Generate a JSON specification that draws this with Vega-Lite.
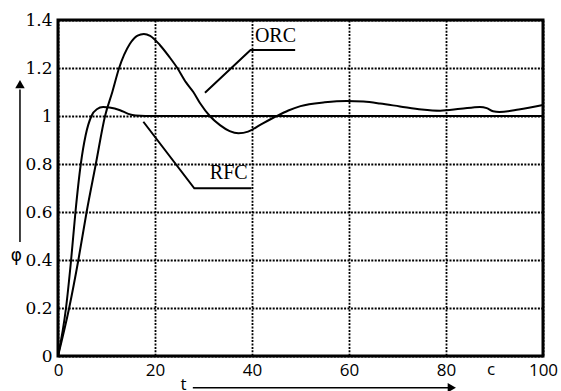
{
  "$schema": "https://vega.github.io/schema/vega-lite/v6.json",
  "width": 485,
  "height": 336,
  "autosize": {"type": "none"},
  "padding": {"left": 58, "top": 20, "right": 18, "bottom": 35},
  "background": "white",
  "config": {
    "view": {"stroke": "black", "strokeWidth": 3},
    "axis": {
      "grid": true,
      "gridColor": "black",
      "gridDash": [2, 1.4],
      "gridWidth": 1.8,
      "gridOpacity": 1,
      "domain": false,
      "ticks": false,
      "labelColor": "black",
      "labelFlush": false,
      "title": null
    }
  },
  "datasets": {
    "curves": [
      {"series": "ORC", "t": 0, "phi": 0},
      {"series": "ORC", "t": 2.3, "phi": 0.2},
      {"series": "ORC", "t": 4.2, "phi": 0.4},
      {"series": "ORC", "t": 5.9, "phi": 0.6},
      {"series": "ORC", "t": 7.8, "phi": 0.8},
      {"series": "ORC", "t": 9.7, "phi": 1.0},
      {"series": "ORC", "t": 11.2, "phi": 1.1},
      {"series": "ORC", "t": 12.6, "phi": 1.2},
      {"series": "ORC", "t": 14.8, "phi": 1.3},
      {"series": "ORC", "t": 16.4, "phi": 1.335},
      {"series": "ORC", "t": 17.7, "phi": 1.342},
      {"series": "ORC", "t": 19, "phi": 1.334},
      {"series": "ORC", "t": 21, "phi": 1.296},
      {"series": "ORC", "t": 23, "phi": 1.245},
      {"series": "ORC", "t": 24.6, "phi": 1.2},
      {"series": "ORC", "t": 26.4, "phi": 1.14},
      {"series": "ORC", "t": 27.9, "phi": 1.1},
      {"series": "ORC", "t": 29.3, "phi": 1.053},
      {"series": "ORC", "t": 31.3, "phi": 1.0},
      {"series": "ORC", "t": 33.4, "phi": 0.962},
      {"series": "ORC", "t": 35.4, "phi": 0.937},
      {"series": "ORC", "t": 37.2, "phi": 0.928},
      {"series": "ORC", "t": 39.2, "phi": 0.935},
      {"series": "ORC", "t": 41.6, "phi": 0.962},
      {"series": "ORC", "t": 45.1, "phi": 1.0},
      {"series": "ORC", "t": 47.5, "phi": 1.023},
      {"series": "ORC", "t": 50, "phi": 1.041},
      {"series": "ORC", "t": 55, "phi": 1.057},
      {"series": "ORC", "t": 59.5, "phi": 1.063},
      {"series": "ORC", "t": 63, "phi": 1.06},
      {"series": "ORC", "t": 66.4, "phi": 1.052},
      {"series": "ORC", "t": 70.5, "phi": 1.04},
      {"series": "ORC", "t": 75, "phi": 1.027},
      {"series": "ORC", "t": 78.8, "phi": 1.022},
      {"series": "ORC", "t": 83, "phi": 1.03},
      {"series": "ORC", "t": 87, "phi": 1.038},
      {"series": "ORC", "t": 88.4, "phi": 1.033},
      {"series": "ORC", "t": 89.7, "phi": 1.02},
      {"series": "ORC", "t": 91, "phi": 1.017},
      {"series": "ORC", "t": 95, "phi": 1.027},
      {"series": "ORC", "t": 100, "phi": 1.046},
      {"series": "RFC", "t": 0, "phi": 0},
      {"series": "RFC", "t": 1.65, "phi": 0.2},
      {"series": "RFC", "t": 2.7, "phi": 0.4},
      {"series": "RFC", "t": 3.6, "phi": 0.6},
      {"series": "RFC", "t": 4.7, "phi": 0.8},
      {"series": "RFC", "t": 5.7, "phi": 0.92},
      {"series": "RFC", "t": 6.9, "phi": 1.0},
      {"series": "RFC", "t": 8.0, "phi": 1.028},
      {"series": "RFC", "t": 9.3, "phi": 1.037},
      {"series": "RFC", "t": 10.6, "phi": 1.035},
      {"series": "RFC", "t": 12.8, "phi": 1.024},
      {"series": "RFC", "t": 14.5, "phi": 1.009},
      {"series": "RFC", "t": 16, "phi": 1.002},
      {"series": "RFC", "t": 18, "phi": 1.0},
      {"series": "RFC", "t": 30, "phi": 1.0},
      {"series": "RFC", "t": 60, "phi": 1.0},
      {"series": "RFC", "t": 100, "phi": 1.0}
    ],
    "leaders": [
      {"name": "ORC", "t": 30.3, "phi": 1.097},
      {"name": "ORC", "t": 39.7, "phi": 1.275},
      {"name": "ORC", "t": 48.9, "phi": 1.275},
      {"name": "RFC", "t": 17.6, "phi": 0.976},
      {"name": "RFC", "t": 28.1, "phi": 0.699},
      {"name": "RFC", "t": 39.9, "phi": 0.699}
    ],
    "names": [
      {"text": "ORC", "t": 40.6, "phi": 1.308},
      {"text": "RFC", "t": 31.3, "phi": 0.7375}
    ],
    "axislabels": [
      {"text": "c", "t": 89.3, "phi": -0.079},
      {"text": "t", "t": 25.9, "phi": -0.1415}
    ],
    "philabel": [
      {"text": "φ", "t": -8.56, "phi": 0.396}
    ],
    "arrows": [
      {"t": -7.84, "phi": 0.475, "t2": -7.84, "phi2": 1.11},
      {"t": 27.8, "phi": -0.132, "t2": 80.6, "phi2": -0.132}
    ],
    "heads": [
      {"shape": "triangle-up", "t": -7.84, "phi": 1.133},
      {"shape": "triangle-right", "t": 81.2, "phi": -0.132}
    ]
  },
  "layer": [
    {
      "data": {"name": "curves"},
      "mark": {"type": "line", "interpolate": "monotone", "strokeWidth": 2, "color": "black"},
      "encoding": {
        "x": {
          "field": "t", "type": "quantitative",
          "scale": {"domain": [0, 100], "nice": false},
          "axis": {
            "values": [0, 20, 40, 60, 80, 100],
            "labelFont": "Open Sans",
            "labelFontSize": 17,
            "labelPadding": 6
          }
        },
        "y": {
          "field": "phi", "type": "quantitative",
          "scale": {"domain": [0, 1.4], "nice": false},
          "axis": {
            "values": [0, 0.2, 0.4, 0.6, 0.8, 1, 1.2, 1.4],
            "format": ".2~f",
            "labelFont": "DejaVu Serif",
            "labelFontSize": 17,
            "labelPadding": 6
          }
        },
        "detail": {"field": "series"}
      }
    },
    {
      "data": {"name": "leaders"},
      "mark": {"type": "line", "strokeWidth": 2, "color": "black"},
      "encoding": {
        "x": {"field": "t", "type": "quantitative"},
        "y": {"field": "phi", "type": "quantitative"},
        "detail": {"field": "name"}
      }
    },
    {
      "data": {"name": "names"},
      "mark": {"type": "text", "font": "Liberation Serif", "fontSize": 20, "align": "left", "baseline": "alphabetic", "color": "black"},
      "encoding": {
        "x": {"field": "t", "type": "quantitative"},
        "y": {"field": "phi", "type": "quantitative"},
        "text": {"field": "text"}
      }
    },
    {
      "data": {"name": "axislabels"},
      "mark": {"type": "text", "font": "Open Sans", "fontSize": 17, "align": "center", "baseline": "alphabetic", "color": "black"},
      "encoding": {
        "x": {"field": "t", "type": "quantitative"},
        "y": {"field": "phi", "type": "quantitative"},
        "text": {"field": "text"}
      }
    },
    {
      "data": {"name": "philabel"},
      "mark": {"type": "text", "font": "DejaVu Sans", "fontSize": 17, "align": "center", "baseline": "alphabetic", "color": "black"},
      "encoding": {
        "x": {"field": "t", "type": "quantitative"},
        "y": {"field": "phi", "type": "quantitative"},
        "text": {"field": "text"}
      }
    },
    {
      "data": {"name": "arrows"},
      "mark": {"type": "rule", "strokeWidth": 1.5, "color": "black"},
      "encoding": {
        "x": {"field": "t", "type": "quantitative"},
        "y": {"field": "phi", "type": "quantitative"},
        "x2": {"field": "t2"},
        "y2": {"field": "phi2"}
      }
    },
    {
      "data": {"name": "heads"},
      "mark": {"type": "point", "filled": true, "size": 90, "color": "black", "opacity": 1},
      "encoding": {
        "x": {"field": "t", "type": "quantitative"},
        "y": {"field": "phi", "type": "quantitative"},
        "shape": {"field": "shape", "type": "nominal", "scale": null}
      }
    }
  ]
}
